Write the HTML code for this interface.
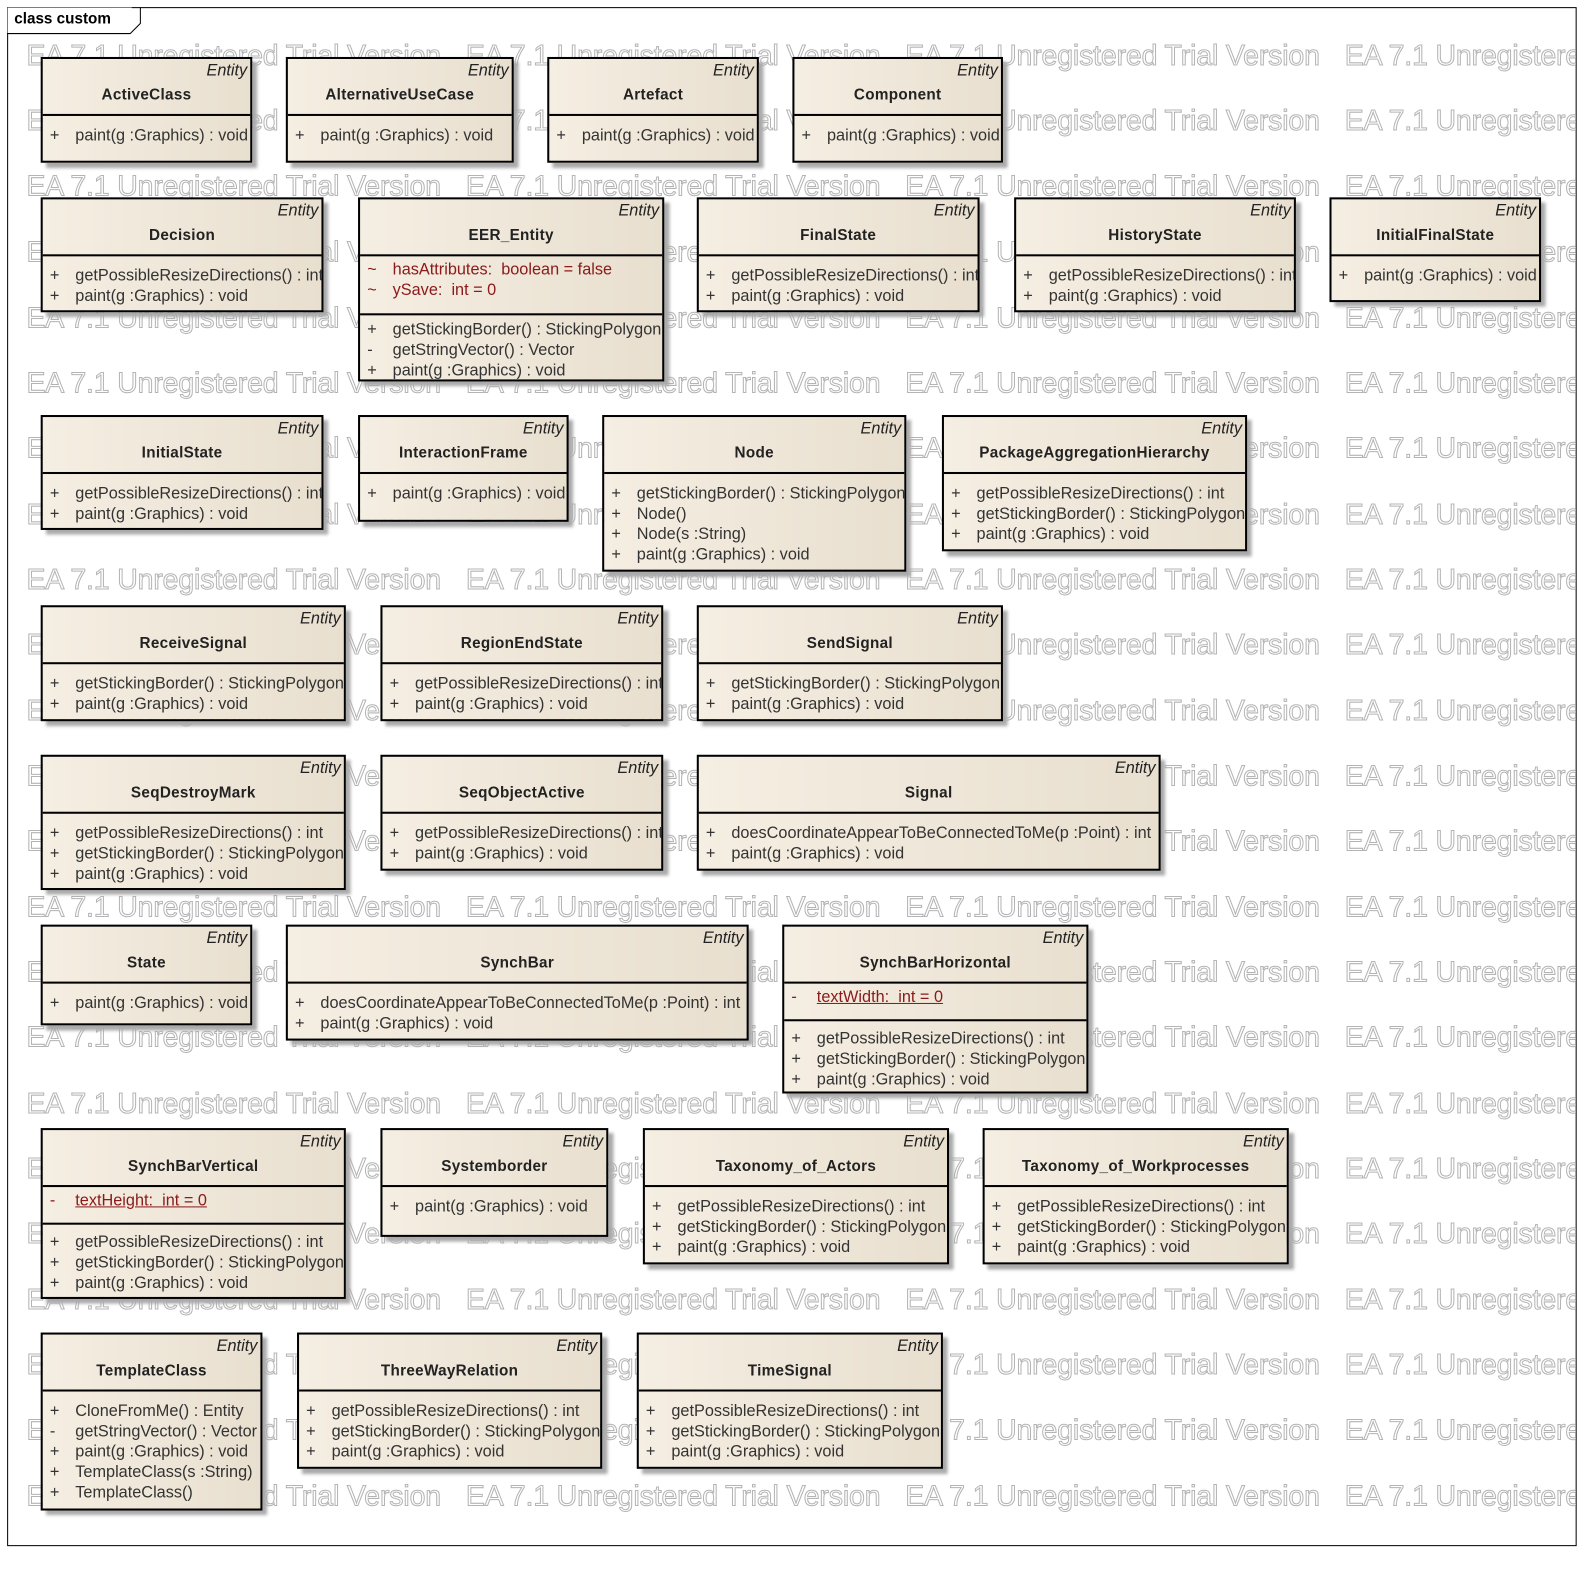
<!DOCTYPE html>
<html><head><meta charset="utf-8"><style>
html,body{margin:0;padding:0;background:#fff;width:1595px;height:1595px;overflow:hidden}
#w{position:absolute;left:0;top:0;width:1568px;height:1568px;transform:scale(1.0172);transform-origin:0 0;font-family:"Liberation Sans",sans-serif}
#f{position:absolute;left:7px;top:7px;width:1541px;height:1511px;border:1px solid #000;overflow:hidden}
.wm{position:absolute;left:18px;font-size:28px;color:#fff;-webkit-text-stroke:1px #b4b4b4;white-space:nowrap;letter-spacing:-0.15px}
.wm span{display:inline-block;width:432px}
#tab{position:absolute;left:7px;top:7px;width:130px;height:26px}
.b{position:absolute;border:2px solid #000;background:linear-gradient(90deg,#f5eee2,#e8dfcf);box-shadow:5px 5px 3px #aaa;box-sizing:border-box;color:#222}
.b i{position:absolute;right:3px;top:3px;font-size:16px}
.b b{position:absolute;left:0;right:0;top:27px;text-align:center;font-size:15px;letter-spacing:0.3px}
.c{position:absolute;left:0;right:0;border-top:2px solid #000;padding-top:10px;box-sizing:border-box}
.c p{margin:0;height:20px;line-height:20px;font-size:16px;white-space:nowrap;color:#333;overflow:hidden}
.c p s{text-decoration:none;display:inline-block;width:32px;text-indent:7px}
.r p{color:#8b1a1a}
.u{text-decoration:underline}
</style></head><body><div id="w">
<div id="f">
<div class="wm" style="top:31px"><span>EA 7.1 Unregistered Trial Version</span><span>EA 7.1 Unregistered Trial Version</span><span>EA 7.1 Unregistered Trial Version</span><span>EA 7.1 Unregistered Trial Version</span></div>
<div class="wm" style="top:95px"><span>EA 7.1 Unregistered Trial Version</span><span>EA 7.1 Unregistered Trial Version</span><span>EA 7.1 Unregistered Trial Version</span><span>EA 7.1 Unregistered Trial Version</span></div>
<div class="wm" style="top:159px"><span>EA 7.1 Unregistered Trial Version</span><span>EA 7.1 Unregistered Trial Version</span><span>EA 7.1 Unregistered Trial Version</span><span>EA 7.1 Unregistered Trial Version</span></div>
<div class="wm" style="top:224px"><span>EA 7.1 Unregistered Trial Version</span><span>EA 7.1 Unregistered Trial Version</span><span>EA 7.1 Unregistered Trial Version</span><span>EA 7.1 Unregistered Trial Version</span></div>
<div class="wm" style="top:289px"><span>EA 7.1 Unregistered Trial Version</span><span>EA 7.1 Unregistered Trial Version</span><span>EA 7.1 Unregistered Trial Version</span><span>EA 7.1 Unregistered Trial Version</span></div>
<div class="wm" style="top:353px"><span>EA 7.1 Unregistered Trial Version</span><span>EA 7.1 Unregistered Trial Version</span><span>EA 7.1 Unregistered Trial Version</span><span>EA 7.1 Unregistered Trial Version</span></div>
<div class="wm" style="top:417px"><span>EA 7.1 Unregistered Trial Version</span><span>EA 7.1 Unregistered Trial Version</span><span>EA 7.1 Unregistered Trial Version</span><span>EA 7.1 Unregistered Trial Version</span></div>
<div class="wm" style="top:482px"><span>EA 7.1 Unregistered Trial Version</span><span>EA 7.1 Unregistered Trial Version</span><span>EA 7.1 Unregistered Trial Version</span><span>EA 7.1 Unregistered Trial Version</span></div>
<div class="wm" style="top:546px"><span>EA 7.1 Unregistered Trial Version</span><span>EA 7.1 Unregistered Trial Version</span><span>EA 7.1 Unregistered Trial Version</span><span>EA 7.1 Unregistered Trial Version</span></div>
<div class="wm" style="top:610px"><span>EA 7.1 Unregistered Trial Version</span><span>EA 7.1 Unregistered Trial Version</span><span>EA 7.1 Unregistered Trial Version</span><span>EA 7.1 Unregistered Trial Version</span></div>
<div class="wm" style="top:675px"><span>EA 7.1 Unregistered Trial Version</span><span>EA 7.1 Unregistered Trial Version</span><span>EA 7.1 Unregistered Trial Version</span><span>EA 7.1 Unregistered Trial Version</span></div>
<div class="wm" style="top:739px"><span>EA 7.1 Unregistered Trial Version</span><span>EA 7.1 Unregistered Trial Version</span><span>EA 7.1 Unregistered Trial Version</span><span>EA 7.1 Unregistered Trial Version</span></div>
<div class="wm" style="top:803px"><span>EA 7.1 Unregistered Trial Version</span><span>EA 7.1 Unregistered Trial Version</span><span>EA 7.1 Unregistered Trial Version</span><span>EA 7.1 Unregistered Trial Version</span></div>
<div class="wm" style="top:868px"><span>EA 7.1 Unregistered Trial Version</span><span>EA 7.1 Unregistered Trial Version</span><span>EA 7.1 Unregistered Trial Version</span><span>EA 7.1 Unregistered Trial Version</span></div>
<div class="wm" style="top:932px"><span>EA 7.1 Unregistered Trial Version</span><span>EA 7.1 Unregistered Trial Version</span><span>EA 7.1 Unregistered Trial Version</span><span>EA 7.1 Unregistered Trial Version</span></div>
<div class="wm" style="top:996px"><span>EA 7.1 Unregistered Trial Version</span><span>EA 7.1 Unregistered Trial Version</span><span>EA 7.1 Unregistered Trial Version</span><span>EA 7.1 Unregistered Trial Version</span></div>
<div class="wm" style="top:1061px"><span>EA 7.1 Unregistered Trial Version</span><span>EA 7.1 Unregistered Trial Version</span><span>EA 7.1 Unregistered Trial Version</span><span>EA 7.1 Unregistered Trial Version</span></div>
<div class="wm" style="top:1125px"><span>EA 7.1 Unregistered Trial Version</span><span>EA 7.1 Unregistered Trial Version</span><span>EA 7.1 Unregistered Trial Version</span><span>EA 7.1 Unregistered Trial Version</span></div>
<div class="wm" style="top:1189px"><span>EA 7.1 Unregistered Trial Version</span><span>EA 7.1 Unregistered Trial Version</span><span>EA 7.1 Unregistered Trial Version</span><span>EA 7.1 Unregistered Trial Version</span></div>
<div class="wm" style="top:1254px"><span>EA 7.1 Unregistered Trial Version</span><span>EA 7.1 Unregistered Trial Version</span><span>EA 7.1 Unregistered Trial Version</span><span>EA 7.1 Unregistered Trial Version</span></div>
<div class="wm" style="top:1318px"><span>EA 7.1 Unregistered Trial Version</span><span>EA 7.1 Unregistered Trial Version</span><span>EA 7.1 Unregistered Trial Version</span><span>EA 7.1 Unregistered Trial Version</span></div>
<div class="wm" style="top:1382px"><span>EA 7.1 Unregistered Trial Version</span><span>EA 7.1 Unregistered Trial Version</span><span>EA 7.1 Unregistered Trial Version</span><span>EA 7.1 Unregistered Trial Version</span></div>
<div class="wm" style="top:1447px"><span>EA 7.1 Unregistered Trial Version</span><span>EA 7.1 Unregistered Trial Version</span><span>EA 7.1 Unregistered Trial Version</span><span>EA 7.1 Unregistered Trial Version</span></div>
</div>
<svg id="tab" viewBox="0 0 130 26" style="overflow:visible"><rect x="0.5" y="0.5" width="122" height="25" fill="#fff" stroke="none"/><polyline points="0,26 121,26 131,16 131,0" fill="none" stroke="#000"/></svg>
<div style="position:absolute;left:14px;top:10px;font-weight:bold;font-size:15px">class custom</div>

<!-- Row 1 -->
<div class="b" style="left:40px;top:56px;width:208px;height:104px"><i>Entity</i><b>ActiveClass</b><div class="c" style="top:54px"><p><s>+</s>paint(g :Graphics) : void</p></div></div>
<div class="b" style="left:281px;top:56px;width:224px;height:104px"><i>Entity</i><b>AlternativeUseCase</b><div class="c" style="top:54px"><p><s>+</s>paint(g :Graphics) : void</p></div></div>
<div class="b" style="left:538px;top:56px;width:208px;height:104px"><i>Entity</i><b>Artefact</b><div class="c" style="top:54px"><p><s>+</s>paint(g :Graphics) : void</p></div></div>
<div class="b" style="left:779px;top:56px;width:207px;height:104px"><i>Entity</i><b>Component</b><div class="c" style="top:54px"><p><s>+</s>paint(g :Graphics) : void</p></div></div>

<!-- Row 2 -->
<div class="b" style="left:40px;top:194px;width:278px;height:113px"><i>Entity</i><b>Decision</b><div class="c" style="top:54px"><p><s>+</s>getPossibleResizeDirections() : int</p><p><s>+</s>paint(g :Graphics) : void</p></div></div>
<div class="b" style="left:352px;top:194px;width:301px;height:181px"><i>Entity</i><b>EER_Entity</b><div class="c r" style="top:54px;padding-top:4px"><p><s>~</s>hasAttributes:&nbsp; boolean = false</p><p><s>~</s>ySave:&nbsp; int = 0</p></div><div class="c" style="top:112px;padding-top:5px"><p><s>+</s>getStickingBorder() : StickingPolygon</p><p><s>-</s>getStringVector() : Vector</p><p><s>+</s>paint(g :Graphics) : void</p></div></div>
<div class="b" style="left:685px;top:194px;width:278px;height:113px"><i>Entity</i><b>FinalState</b><div class="c" style="top:54px"><p><s>+</s>getPossibleResizeDirections() : int</p><p><s>+</s>paint(g :Graphics) : void</p></div></div>
<div class="b" style="left:997px;top:194px;width:277px;height:113px"><i>Entity</i><b>HistoryState</b><div class="c" style="top:54px"><p><s>+</s>getPossibleResizeDirections() : int</p><p><s>+</s>paint(g :Graphics) : void</p></div></div>
<div class="b" style="left:1307px;top:194px;width:208px;height:103px"><i>Entity</i><b>InitialFinalState</b><div class="c" style="top:54px"><p><s>+</s>paint(g :Graphics) : void</p></div></div>

<!-- Row 3 -->
<div class="b" style="left:40px;top:408px;width:278px;height:113px"><i>Entity</i><b>InitialState</b><div class="c" style="top:54px"><p><s>+</s>getPossibleResizeDirections() : int</p><p><s>+</s>paint(g :Graphics) : void</p></div></div>
<div class="b" style="left:352px;top:408px;width:207px;height:105px"><i>Entity</i><b>InteractionFrame</b><div class="c" style="top:54px"><p><s>+</s>paint(g :Graphics) : void</p></div></div>
<div class="b" style="left:592px;top:408px;width:299px;height:154px"><i>Entity</i><b>Node</b><div class="c" style="top:54px"><p><s>+</s>getStickingBorder() : StickingPolygon</p><p><s>+</s>Node()</p><p><s>+</s>Node(s :String)</p><p><s>+</s>paint(g :Graphics) : void</p></div></div>
<div class="b" style="left:926px;top:408px;width:300px;height:134px"><i>Entity</i><b>PackageAggregationHierarchy</b><div class="c" style="top:54px"><p><s>+</s>getPossibleResizeDirections() : int</p><p><s>+</s>getStickingBorder() : StickingPolygon</p><p><s>+</s>paint(g :Graphics) : void</p></div></div>

<!-- Row 4 -->
<div class="b" style="left:40px;top:595px;width:300px;height:114px"><i>Entity</i><b>ReceiveSignal</b><div class="c" style="top:54px"><p><s>+</s>getStickingBorder() : StickingPolygon</p><p><s>+</s>paint(g :Graphics) : void</p></div></div>
<div class="b" style="left:374px;top:595px;width:278px;height:114px"><i>Entity</i><b>RegionEndState</b><div class="c" style="top:54px"><p><s>+</s>getPossibleResizeDirections() : int</p><p><s>+</s>paint(g :Graphics) : void</p></div></div>
<div class="b" style="left:685px;top:595px;width:301px;height:114px"><i>Entity</i><b>SendSignal</b><div class="c" style="top:54px"><p><s>+</s>getStickingBorder() : StickingPolygon</p><p><s>+</s>paint(g :Graphics) : void</p></div></div>

<!-- Row 5 -->
<div class="b" style="left:40px;top:742px;width:300px;height:133px"><i>Entity</i><b>SeqDestroyMark</b><div class="c" style="top:54px"><p><s>+</s>getPossibleResizeDirections() : int</p><p><s>+</s>getStickingBorder() : StickingPolygon</p><p><s>+</s>paint(g :Graphics) : void</p></div></div>
<div class="b" style="left:374px;top:742px;width:278px;height:114px"><i>Entity</i><b>SeqObjectActive</b><div class="c" style="top:54px"><p><s>+</s>getPossibleResizeDirections() : int</p><p><s>+</s>paint(g :Graphics) : void</p></div></div>
<div class="b" style="left:685px;top:742px;width:456px;height:114px"><i>Entity</i><b>Signal</b><div class="c" style="top:54px"><p><s>+</s>doesCoordinateAppearToBeConnectedToMe(p :Point) : int</p><p><s>+</s>paint(g :Graphics) : void</p></div></div>

<!-- Row 6 -->
<div class="b" style="left:40px;top:909px;width:208px;height:99px"><i>Entity</i><b>State</b><div class="c" style="top:54px"><p><s>+</s>paint(g :Graphics) : void</p></div></div>
<div class="b" style="left:281px;top:909px;width:455px;height:114px"><i>Entity</i><b>SynchBar</b><div class="c" style="top:54px"><p><s>+</s>doesCoordinateAppearToBeConnectedToMe(p :Point) : int</p><p><s>+</s>paint(g :Graphics) : void</p></div></div>
<div class="b" style="left:769px;top:909px;width:301px;height:166px"><i>Entity</i><b>SynchBarHorizontal</b><div class="c r" style="top:54px;padding-top:4px"><p><s>-</s><span class="u">textWidth:&nbsp; int = 0</span></p></div><div class="c" style="top:91px;padding-top:8px"><p><s>+</s>getPossibleResizeDirections() : int</p><p><s>+</s>getStickingBorder() : StickingPolygon</p><p><s>+</s>paint(g :Graphics) : void</p></div></div>

<!-- Row 7 -->
<div class="b" style="left:40px;top:1109px;width:300px;height:168px"><i>Entity</i><b>SynchBarVertical</b><div class="c r" style="top:54px;padding-top:4px"><p><s>-</s><span class="u">textHeight:&nbsp; int = 0</span></p></div><div class="c" style="top:91px;padding-top:8px"><p><s>+</s>getPossibleResizeDirections() : int</p><p><s>+</s>getStickingBorder() : StickingPolygon</p><p><s>+</s>paint(g :Graphics) : void</p></div></div>
<div class="b" style="left:374px;top:1109px;width:224px;height:107px"><i>Entity</i><b>Systemborder</b><div class="c" style="top:54px"><p><s>+</s>paint(g :Graphics) : void</p></div></div>
<div class="b" style="left:632px;top:1109px;width:301px;height:134px"><i>Entity</i><b>Taxonomy_of_Actors</b><div class="c" style="top:54px"><p><s>+</s>getPossibleResizeDirections() : int</p><p><s>+</s>getStickingBorder() : StickingPolygon</p><p><s>+</s>paint(g :Graphics) : void</p></div></div>
<div class="b" style="left:966px;top:1109px;width:301px;height:134px"><i>Entity</i><b>Taxonomy_of_Workprocesses</b><div class="c" style="top:54px"><p><s>+</s>getPossibleResizeDirections() : int</p><p><s>+</s>getStickingBorder() : StickingPolygon</p><p><s>+</s>paint(g :Graphics) : void</p></div></div>

<!-- Row 8 -->
<div class="b" style="left:40px;top:1310px;width:218px;height:175px"><i>Entity</i><b>TemplateClass</b><div class="c" style="top:54px"><p><s>+</s>CloneFromMe() : Entity</p><p><s>-</s>getStringVector() : Vector</p><p><s>+</s>paint(g :Graphics) : void</p><p><s>+</s>TemplateClass(s :String)</p><p><s>+</s>TemplateClass()</p></div></div>
<div class="b" style="left:292px;top:1310px;width:300px;height:134px"><i>Entity</i><b>ThreeWayRelation</b><div class="c" style="top:54px"><p><s>+</s>getPossibleResizeDirections() : int</p><p><s>+</s>getStickingBorder() : StickingPolygon</p><p><s>+</s>paint(g :Graphics) : void</p></div></div>
<div class="b" style="left:626px;top:1310px;width:301px;height:134px"><i>Entity</i><b>TimeSignal</b><div class="c" style="top:54px"><p><s>+</s>getPossibleResizeDirections() : int</p><p><s>+</s>getStickingBorder() : StickingPolygon</p><p><s>+</s>paint(g :Graphics) : void</p></div></div>
</div></body></html>
